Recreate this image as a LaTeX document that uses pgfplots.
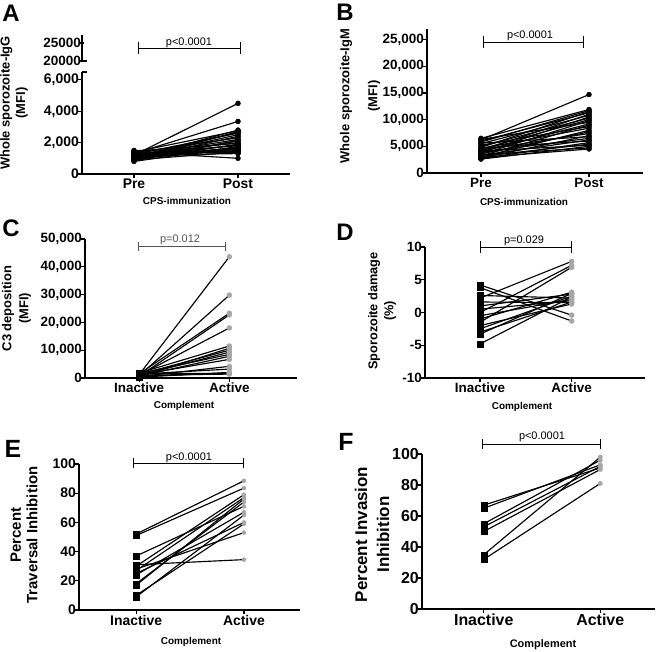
\documentclass[border=0pt]{standalone}
\usepackage{fontspec}
\setmainfont{Liberation Sans}
\usepackage{pgfplots}
\pgfplotsset{compat=1.18}
\usepackage{pgfplotstable}

\definecolor{dotgray}{HTML}{A6A6A6}
\definecolor{brk}{HTML}{555555}

% paired values, one row per subject
\pgfplotstableread{
pre post
1200 4500
1300 3350
1000 2800
1400 2750
900 2700
1100 2650
1250 2600
1050 2500
950 2400
1350 2300
1150 2200
850 2150
1000 2100
1200 2000
1450 1950
900 1900
1100 1850
1300 1800
800 1750
1000 1700
1150 1650
950 1600
1250 1550
1050 1500
1350 1450
900 1400
1500 1350
1200 1300
1100 1600
1400 1000
}\dataA

\pgfplotstableread{
pre post
6200 14700
6500 11900
5800 11700
4800 11500
6000 11300
4200 11000
5500 10800
3800 10500
5000 10300
4500 10000
3500 9800
6300 9500
4000 9200
3200 9000
5200 8700
4600 8400
3000 8000
3600 7700
4300 7400
2800 7000
5600 6800
3900 6500
3300 6200
4700 6000
2700 5700
3100 5400
4100 5200
2600 5000
3400 4700
2900 4500
}\dataB

\pgfplotstableread{
pre post
1200 43600
800 29800
1500 23300
600 22700
1000 18000
1800 11500
400 10700
1300 10000
900 9300
1600 8500
700 7800
1100 6700
500 4200
1400 3200
300 2000
1700 1600
1000 1400
600 1800
}\dataC

\pgfplotstableread{
pre post
4.2 -0.4
3.8 -1.3
2.6 2.2
2.2 7.8
1.6 1.5
1.0 2.8
0.5 1.8
0.0 7.2
-0.5 2.0
-1.0 3.1
-1.5 6.9
-2.0 1.3
-2.5 2.5
-3.0 1.6
-3.3 2.9
-4.8 2.4
}\dataD

\pgfplotstableread{
pre post
52 88.5
51 83.5
37 71
31 34.5
30 79
28 53
27 77
25 60
24 67
18 74
17 76
10 59
9 65
}\dataE

\pgfplotstableread{
pre post
67 91
65 93
55 96
53 92
50 90
35 98
32 81
}\dataF

\pgfplotsset{
  gp/.style={
    scale only axis, axis lines=left,
    axis line style={line width=1.3bp, -},
    enlargelimits=false, clip=false, scaled ticks=false,
    tick align=outside, major tick length=4bp,
    tick style={line width=1.2bp, black},
    xtick={0,1},
    yticklabel style={anchor=east, inner sep=1bp, xshift=2bp},
    xticklabel style={anchor=north, inner sep=1bp},
  },
  pairline/.style={black, line width=1.15bp,
    quiver={u=1, v=\thisrow{post}-\thisrow{pre}}},
  premark/.style={only marks, mark=square*, mark size=3bp, black},
  postmark/.style={only marks, mark=*, mark size=2.5bp, dotgray, mark options={draw=dotgray, fill=dotgray}},
  blackdot/.style={only marks, mark=*, mark size=2.5bp, black},
}

\newcommand{\tl}[1]{\fontsize{#1}{#1}\selectfont\bfseries}

\begin{document}
\begin{tikzpicture}[x=1bp, y=1bp]
\path[use as bounding box] (0,0) rectangle (660,652);

% ---------- A ----------
\begin{axis}[gp, at={(82bp,478bp)}, anchor=south west, width=208bp, height=102bp,
  xmin=-0.5, xmax=1.5, ymin=0, ymax=6500,
  ytick={0,2000,4000,6000}, yticklabels={0,{2,000},{4,000},{6,000}},
  xticklabels={Pre,Post}, tick label style={font=\tl{14}}]
\addplot[pairline] table[x expr=0, y=pre] {\dataA};
\addplot[blackdot] table[x expr=0, y=pre] {\dataA};
\addplot[blackdot] table[x expr=1, y=post] {\dataA};
\end{axis}
\begin{axis}[gp, at={(82bp,591bp)}, anchor=south west, width=208bp, height=26bp,
  axis x line=none, axis y line=left, axis line style={line width=1.3bp, -},
  y axis line style={-},
  xmin=-0.5, xmax=1.5, ymin=20000, ymax=27200,
  ytick={20000,25000}, yticklabels={20000,25000}, tick label style={font=\tl{13.5}}]
\addplot[draw=none] coordinates {(0,21000)};
\end{axis}
\draw[line width=1.3bp] (82,580) -- (87,580) (82,591) -- (87,591);
\draw[line width=0.9bp] (138,604) -- (240,604) (138,598) -- (138,610) (240,598) -- (240,610);
\node[font=\fontsize{11}{11}\selectfont, anchor=base] at (189,606) {p<0.0001};
\node[rotate=90, align=center, font=\fontsize{13}{15.4}\selectfont\bfseries] at (14,549) {Whole sporozoite-IgG\\(MFI)};
\node[font=\fontsize{10}{10}\selectfont\bfseries] at (187,451) {CPS-immunization};
\node[font=\fontsize{24}{24}\selectfont\bfseries] at (11,638.5) {A};

% ---------- B ----------
\begin{axis}[gp, at={(427bp,479bp)}, anchor=south west, width=216bp, height=144bp,
  xmin=-0.5, xmax=1.5, ymin=0, ymax=27000,
  ytick={0,5000,10000,15000,20000,25000},
  yticklabels={0,{5,000},{10,000},{15,000},{20,000},{25,000}},
  xticklabels={Pre,Post}, tick label style={font=\tl{13.5}}]
\addplot[pairline] table[x expr=0, y=pre] {\dataB};
\addplot[blackdot] table[x expr=0, y=pre] {\dataB};
\addplot[blackdot] table[x expr=1, y=post] {\dataB};
\end{axis}
\draw[line width=0.9bp] (483,610) -- (583,610) (483,604) -- (483,616) (583,604) -- (583,616);
\node[font=\fontsize{11}{11}\selectfont, anchor=base] at (530,613) {p<0.0001};
\node[rotate=90, align=center, font=\fontsize{13}{28}\selectfont\bfseries] at (360,556) {Whole sporozoite-IgM\\(MFI)};
\node[font=\fontsize{10}{10}\selectfont\bfseries] at (524,450) {CPS-immunization};
\node[font=\fontsize{24}{24}\selectfont\bfseries] at (345,639.5) {B};

% ---------- C ----------
\begin{axis}[gp, at={(85bp,274bp)}, anchor=south west, width=212bp, height=139bp,
  xmin=-0.6, xmax=1.75, ymin=0, ymax=50000,
  ytick={0,10000,20000,30000,40000,50000},
  yticklabels={0,{10,000},{20,000},{30,000},{40,000},{50,000}},
  xticklabels={Inactive,Active}, tick label style={font=\tl{13.5}}]
\addplot[pairline] table[x expr=0, y=pre] {\dataC};
\addplot[premark] table[x expr=0, y=pre] {\dataC};
\addplot[postmark] table[x expr=1, y=post] {\dataC};
\end{axis}
\draw[brk, line width=1bp] (138,405) -- (225,405) (138,401) -- (138,410) (225,401) -- (225,410);
\node[brk, font=\fontsize{11}{11}\selectfont, anchor=base] at (180,409) {p=0.012};
\node[rotate=90, align=center, font=\fontsize{13}{17}\selectfont\bfseries] at (16.5,343.5) {C3 deposition\\(MFI)};
\node[font=\fontsize{10}{10}\selectfont\bfseries] at (184,246) {Complement};
\node[font=\fontsize{24}{24}\selectfont\bfseries] at (11,423.5) {C};

% ---------- D ----------
\begin{axis}[gp, at={(425bp,274bp)}, anchor=south west, width=220bp, height=131bp,
  xmin=-0.6, xmax=1.8, ymin=-10, ymax=10,
  ytick={-10,-5,0,5,10}, yticklabels={-10,-5,0,5,10},
  xticklabels={Inactive,Active}, tick label style={font=\tl{13.5}}]
\addplot[pairline] table[x expr=0, y=pre] {\dataD};
\addplot[premark] table[x expr=0, y=pre] {\dataD};
\addplot[postmark] table[x expr=1, y=post] {\dataD};
\end{axis}
\draw[line width=0.9bp] (480,405) -- (571,405) (480,399) -- (480,411) (571,399) -- (571,411);
\node[font=\fontsize{11}{11}\selectfont, anchor=base] at (524,408) {p=0.029};
\node[rotate=90, align=center, font=\fontsize{12.8}{16}\selectfont\bfseries] at (382,341) {Sporozoite damage\\(\%)};
\node[font=\fontsize{10}{10}\selectfont\bfseries] at (522,245) {Complement};
\node[font=\fontsize{24}{24}\selectfont\bfseries] at (345,420) {D};

% ---------- E ----------
\begin{axis}[gp, at={(79bp,42bp)}, anchor=south west, width=221bp, height=146bp,
  xmin=-0.53, xmax=1.52, ymin=0, ymax=100,
  ytick={0,20,40,60,80,100}, yticklabels={0,20,40,60,80,100},
  xticklabels={Inactive,Active}, tick label style={font=\tl{14}}]
\addplot[pairline] table[x expr=0, y=pre] {\dataE};
\addplot[premark] table[x expr=0, y=pre] {\dataE};
\addplot[postmark, mark size=2bp] table[x expr=1, y=post] {\dataE};
\end{axis}
\draw[line width=0.9bp] (133,189) -- (243,189) (133,184) -- (133,194) (243,184) -- (243,194);
\node[font=\fontsize{11}{11}\selectfont, anchor=base] at (189,191.5) {p<0.0001};
\node[rotate=90, align=center, font=\fontsize{15}{16.5}\selectfont\bfseries] at (24,117) {Percent\\Traversal Inhibition};
\node[font=\fontsize{10}{10}\selectfont\bfseries] at (191,10) {Complement};
\node[font=\fontsize{25}{25}\selectfont\bfseries] at (13,203) {E};

% ---------- F ----------
\begin{axis}[gp, at={(422bp,43bp)}, anchor=south west, width=233bp, height=155bp,
  xmin=-0.53, xmax=1.47, ymin=0, ymax=100,
  ytick={0,20,40,60,80,100}, yticklabels={0,20,40,60,80,100},
  xticklabels={Inactive,Active}, tick label style={font=\tl{16}}]
\addplot[pairline] table[x expr=0, y=pre] {\dataF};
\addplot[premark] table[x expr=0, y=pre] {\dataF};
\addplot[postmark, mark size=2.2bp] table[x expr=1, y=post] {\dataF};
\end{axis}
\draw[line width=0.9bp] (482,208) -- (600,208) (482,203) -- (482,213) (600,203) -- (600,213);
\node[font=\fontsize{11}{11}\selectfont, anchor=base] at (542,212) {p<0.0001};
\node[rotate=90, align=center, font=\fontsize{17}{22}\selectfont\bfseries] at (372,117.5) {Percent Invasion\\Inhibition};
\node[font=\fontsize{11}{11}\selectfont\bfseries] at (543,7) {Complement};
\node[font=\fontsize{25}{25}\selectfont\bfseries] at (346,210.5) {F};
\end{tikzpicture}
\end{document}
